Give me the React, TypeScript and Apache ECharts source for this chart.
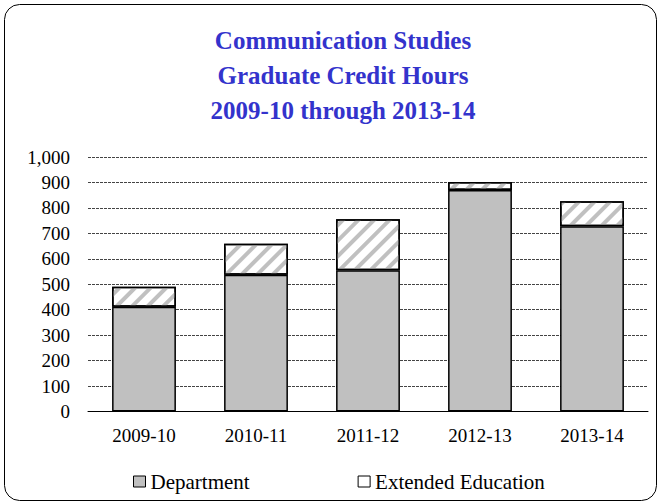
import React, { useEffect, useRef } from "react";
import * as echarts from "echarts";

const categories = ["2009-10", "2010-11", "2011-12", "2012-13", "2013-14"];
const department = [412, 537, 555, 870, 728];
const extended = [78, 122, 200, 32, 98];
const yTicks = { min: 0, max: 1000, interval: 100 };

const FONT = "'Liberation Serif', 'Times New Roman', serif";

export default function App() {
  const ref = useRef<HTMLDivElement>(null);
  useEffect(() => {
    const chart = echarts.init(ref.current!, undefined, { renderer: "svg" });
    chart.setOption({
      animation: false,
      backgroundColor: "#fff",
      title: {
        text: "Communication Studies\nGraduate Credit Hours\n2009-10 through 2013-14",
        left: 343,
        textAlign: "center",
        top: 22.5,
        padding: 0,
        textStyle: {
          fontFamily: FONT,
          fontSize: 25,
          fontWeight: "bold",
          color: "#3333cc",
          lineHeight: 35,
        },
      },
      graphic: [
        {
          type: "rect",
          shape: { x: 4.5, y: 4.5, width: 652, height: 496, r: 15 },
          style: { fill: "none", stroke: "#000", lineWidth: 1 },
          silent: true,
          z: -1,
        },
      ],
      grid: { left: 88, right: 13, top: 157, bottom: 92.5 },
      legend: {
        left: 128,
        top: 466,
        icon: "rect",
        itemWidth: 12,
        itemHeight: 11,
        itemGap: 108,
        textStyle: { fontFamily: FONT, fontSize: 21, color: "#000" },
        data: [
          { name: "Department", itemStyle: { color: "#c0c0c0", borderColor: "#000", borderWidth: 1 } },
          { name: "Extended Education", itemStyle: { color: "#fff", borderColor: "#000", borderWidth: 1, decal: "none" } },
        ],
      },
      xAxis: {
        type: "category",
        data: categories,
        axisLine: { lineStyle: { color: "#000", width: 1 } },
        axisTick: { show: false },
        axisLabel: { fontFamily: FONT, fontSize: 19, color: "#000", margin: 14 },
      },
      yAxis: {
        type: "value",
        min: yTicks.min,
        max: yTicks.max,
        interval: yTicks.interval,
        axisLine: { show: false },
        axisTick: { show: false },
        axisLabel: {
          fontFamily: FONT,
          fontSize: 19,
          color: "#000",
          margin: 18,
          formatter: (v: number) => v.toLocaleString("en-US"),
        },
        splitLine: { lineStyle: { color: "#444", width: 1, type: [3, 1] } },
      },
      series: [
        {
          name: "Department",
          type: "bar",
          stack: "total",
          barWidth: "57%",
          data: department,
          itemStyle: { color: "#c0c0c0", borderColor: "#000", borderWidth: 1.5 },
        },
        {
          name: "Extended Education",
          type: "bar",
          stack: "total",
          barWidth: "57%",
          data: extended,
          itemStyle: {
            color: "#fff",
            borderColor: "#000",
            borderWidth: 1.5,
            decal: {
              symbol: "rect",
              symbolSize: 1,
              color: "#c0c0c0",
              backgroundColor: "#fff",
              dashArrayX: [1, 0],
              dashArrayY: [4, 7],
              rotation: -Math.PI / 4,
            },
          },
        },
      ],
    });
    return () => chart.dispose();
  }, []);
  return (
    <div
      ref={ref}
      style={{ position: "fixed", left: 0, top: 0, width: 661, height: 504 }}
    />
  );
}
